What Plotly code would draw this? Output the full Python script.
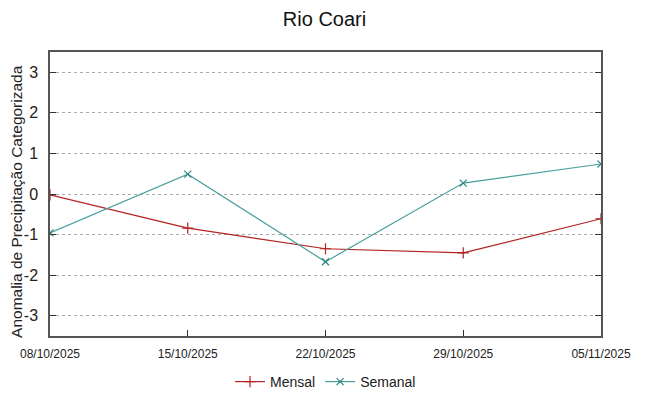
import plotly.graph_objects as go

dates = ["08/10/2025", "15/10/2025", "22/10/2025", "29/10/2025", "05/11/2025"]
mensal = [-0.02, -0.84, -1.35, -1.45, -0.61]
semanal = [-0.96, 0.49, -1.67, 0.27, 0.74]
y_ticks = [-3, -2, -1, 0, 1, 2, 3]
y_tick_labels = ["-3", "-2", "-1", "0", "1", "2", "3"]

fig = go.Figure()
fig.add_trace(go.Scatter(
    x=dates, y=mensal, name="Mensal", mode="lines+markers",
    line=dict(color="#b22222", width=1.2),
    marker=dict(symbol="cross-thin", size=8, line=dict(color="#b22222", width=1.2)),
))
fig.add_trace(go.Scatter(
    x=dates, y=semanal, name="Semanal", mode="lines+markers",
    line=dict(color="#4a9f9f", width=1.2),
    marker=dict(symbol="x-thin", size=7, line=dict(color="#2e8282", width=1.2)),
))

fig.update_layout(
    width=649, height=396,
    paper_bgcolor="white", plot_bgcolor="white",
    margin=dict(l=50, r=48, t=52, b=60, autoexpand=False),
    font=dict(family="Liberation Sans, Arial, sans-serif", color="#222"),
    title=dict(text="Rio Coari", x=0.5, xanchor="center", y=0.952, yref="container",
               yanchor="middle", font=dict(size=20, color="#111")),
    showlegend=True,
    legend=dict(orientation="h", x=0.5, xanchor="center", y=-0.162, yanchor="middle",
                font=dict(size=14), bgcolor="rgba(0,0,0,0)"),
    annotations=[dict(
        text="Anomalia de Precipitação Categorizada", textangle=-90,
        xref="paper", yref="paper", x=-0.062, y=0.475, xanchor="center", yanchor="middle",
        showarrow=False, font=dict(size=15.5, color="#222"),
    )],
)
fig.update_xaxes(
    type="category", range=[0, 4], showgrid=False, automargin=False,
    showline=True, linecolor="#555", linewidth=1.5, mirror=True,
    ticks="inside", ticklen=6, tickcolor="#333", ticklabelstandoff=6,
    tickfont=dict(family="Liberation Sans Narrow, Arial Narrow, sans-serif", size=12, color="#222"),
    zeroline=False,
)
fig.update_yaxes(
    range=[-3.5, 3.5], tickvals=y_ticks, ticktext=y_tick_labels, automargin=False,
    showgrid=True, gridcolor="#aaaaaa", griddash="dot", gridwidth=1,
    showline=True, linecolor="#555", linewidth=1.5, mirror="ticks",
    ticks="inside", ticklen=6, tickcolor="#333", ticklabelstandoff=7,
    tickfont=dict(size=16, color="#222"),
    zeroline=False,
)
fig.write_html("out.html", config={"displayModeBar": False},
               post_script="document.body.style.margin='0';")
